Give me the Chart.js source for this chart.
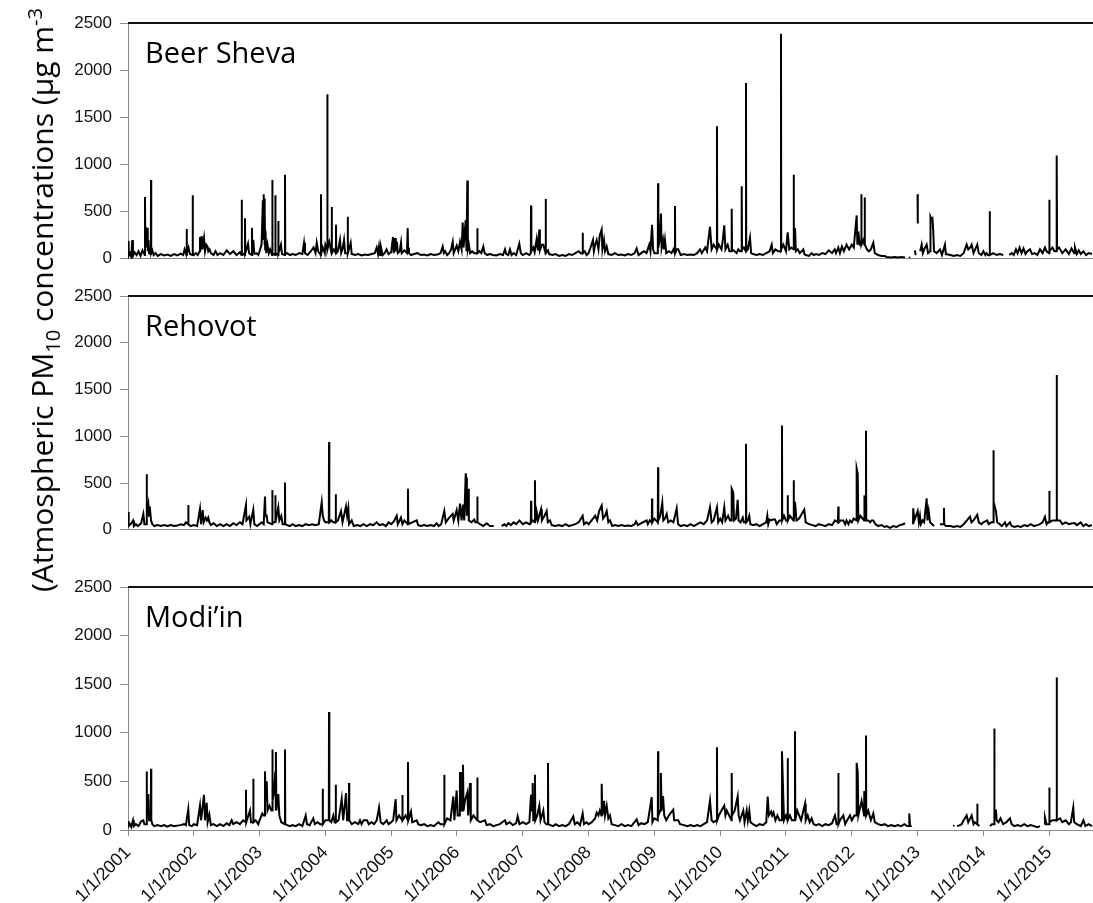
<!DOCTYPE html>
<html>
<head>
<meta charset="utf-8">
<script src="https://cdn.jsdelivr.net/npm/chart.js@4.4.1/dist/chart.umd.min.js"></script>
<style>
  html, body { margin: 0; padding: 0; background: #fff; }
  body { width: 1093px; height: 903px; position: relative; overflow: hidden; }
  canvas { position: absolute; left: 0; }
  #ytitle {
    position: absolute; left: 42px; top: 300px;
    transform: translate(-50%, -50%) rotate(-90deg);
    white-space: nowrap; font-family: 'Open Sans'; font-size: 30px; line-height: 30px; color: #000;
  }
  #ytitle sub, #ytitle sup { font-size: 20px; line-height: 0; }
</style>
</head>
<body>
<canvas id="beerShevaChart" width="1093" height="277" style="top:0px"></canvas>
<canvas id="rehovotChart" width="1093" height="272" style="top:276px"></canvas>
<canvas id="modiinChart" width="1093" height="343" style="top:567px"></canvas>
<div id="ytitle">(Atmospheric PM<sub>10</sub> concentrations (&micro;g m<sup>-3</sup></div>
<script>
// daily PM10 (µg m-3): [decimal year, value], null = no data
const beerSheva = [
  [2001.000,190],[2001.010,30],[2001.030,60],[2001.050,20],[2001.065,200],[2001.075,30],[2001.100,70],[2001.130,40],[2001.160,80],[2001.190,30],[2001.220,90],[2001.255,40],[2001.258,655],[2001.262,300],[2001.270,340],[2001.280,120],[2001.290,330],[2001.300,80],[2001.310,200],[2001.320,60],[2001.330,100],[2001.347,40],[2001.350,835],[2001.353,60],[2001.370,90],[2001.390,40],[2001.420,60],[2001.450,30],[2001.500,50],[2001.550,35],[2001.600,45],[2001.650,30],[2001.700,50],[2001.750,35],[2001.800,55],[2001.840,40],[2001.860,100],[2001.880,60],[2001.889,40],[2001.892,315],[2001.895,60],[2001.920,120],[2001.940,50],[2001.980,40],[2001.983,675],[2001.986,50],
  [2002.000,40],[2002.030,60],[2002.060,40],[2002.090,80],[2002.094,230],[2002.100,90],[2002.120,240],[2002.130,100],[2002.155,220],[2002.170,80],[2002.190,150],[2002.210,130],[2002.220,80],[2002.240,100],[2002.260,60],[2002.300,40],[2002.330,80],[2002.360,40],[2002.400,60],[2002.450,40],[2002.500,90],[2002.550,50],[2002.600,80],[2002.650,40],[2002.700,70],[2002.725,40],[2002.728,625],[2002.732,60],[2002.775,40],[2002.778,430],[2002.782,60],[2002.800,100],[2002.824,160],[2002.840,60],[2002.881,40],[2002.884,330],[2002.888,60],[2002.904,200],[2002.920,50],[2002.950,60],[2002.980,40],
  [2003.000,80],[2003.030,150],[2003.050,620],[2003.055,300],[2003.060,685],[2003.065,200],[2003.070,640],[2003.075,150],[2003.080,500],[2003.085,100],[2003.090,300],[2003.100,60],[2003.120,150],[2003.140,60],[2003.160,100],[2003.190,40],[2003.193,835],[2003.197,60],[2003.236,40],[2003.239,675],[2003.243,60],[2003.281,40],[2003.284,400],[2003.288,60],[2003.325,150],[2003.340,50],[2003.383,40],[2003.386,890],[2003.390,50],[2003.420,60],[2003.460,40],[2003.500,50],[2003.550,40],[2003.600,60],[2003.650,50],[2003.675,170],[2003.690,60],[2003.730,40],[2003.780,80],[2003.820,120],[2003.850,60],[2003.868,170],[2003.890,80],[2003.930,40],[2003.933,685],[2003.937,60],[2003.960,120],[2003.990,60],
  [2004.000,150],[2004.026,100],[2004.029,1745],[2004.033,100],[2004.060,180],[2004.093,60],[2004.096,550],[2004.100,60],[2004.130,100],[2004.158,60],[2004.161,360],[2004.165,60],[2004.190,80],[2004.222,200],[2004.240,60],[2004.260,100],[2004.283,200],[2004.300,60],[2004.336,60],[2004.339,445],[2004.343,60],[2004.384,170],[2004.400,50],[2004.450,40],[2004.500,50],[2004.550,35],[2004.600,45],[2004.650,40],[2004.700,50],[2004.750,60],[2004.780,120],[2004.800,50],[2004.815,130],[2004.830,40],[2004.845,120],[2004.870,40],[2004.900,60],[2004.930,100],[2004.960,50],
  [2005.000,70],[2005.027,230],[2005.040,60],[2005.058,220],[2005.070,80],[2005.088,180],[2005.100,60],[2005.130,80],[2005.149,170],[2005.160,60],[2005.200,90],[2005.240,60],[2005.251,325],[2005.256,120],[2005.270,60],[2005.300,40],[2005.350,50],[2005.400,60],[2005.450,40],[2005.500,45],[2005.550,35],[2005.600,50],[2005.650,40],[2005.700,45],[2005.750,60],[2005.783,130],[2005.800,60],[2005.820,80],[2005.850,40],[2005.880,60],[2005.910,100],[2005.935,180],[2005.950,60],[2005.995,140],
  [2006.020,80],[2006.046,180],[2006.070,100],[2006.087,385],[2006.100,120],[2006.132,410],[2006.145,80],[2006.157,830],[2006.165,100],[2006.180,150],[2006.200,60],[2006.230,80],[2006.260,60],[2006.306,60],[2006.309,325],[2006.313,60],[2006.340,80],[2006.370,60],[2006.400,130],[2006.420,60],[2006.460,40],[2006.500,50],[2006.550,40],[2006.600,35],[2006.650,50],[2006.700,40],[2006.729,100],[2006.750,50],[2006.780,40],[2006.805,100],[2006.830,40],[2006.860,60],[2006.900,40],[2006.947,160],[2006.970,60],
  [2007.000,40],[2007.050,60],[2007.100,40],[2007.122,60],[2007.125,565],[2007.130,80],[2007.160,120],[2007.180,70],[2007.211,210],[2007.230,90],[2007.251,310],[2007.260,90],[2007.290,150],[2007.312,150],[2007.330,100],[2007.345,60],[2007.348,635],[2007.352,60],[2007.383,90],[2007.400,50],[2007.450,40],[2007.500,50],[2007.550,30],[2007.600,40],[2007.650,30],[2007.700,50],[2007.750,40],[2007.800,60],[2007.850,80],[2007.880,60],[2007.907,60],[2007.910,275],[2007.914,60],[2007.940,80],[2007.970,40],
  [2008.000,60],[2008.030,120],[2008.067,200],[2008.080,80],[2008.100,150],[2008.123,200],[2008.150,100],[2008.170,250],[2008.199,310],[2008.210,100],[2008.234,200],[2008.250,80],[2008.275,130],[2008.300,50],[2008.350,40],[2008.400,60],[2008.450,40],[2008.500,45],[2008.550,35],[2008.600,50],[2008.650,40],[2008.700,60],[2008.731,110],[2008.760,40],[2008.800,60],[2008.840,80],[2008.880,60],[2008.922,150],[2008.940,80],[2008.965,360],[2008.980,100],
  [2009.000,60],[2009.052,60],[2009.055,800],[2009.060,120],[2009.080,200],[2009.100,480],[2009.110,120],[2009.131,200],[2009.145,100],[2009.161,200],[2009.180,60],[2009.220,80],[2009.260,60],[2009.290,100],[2009.310,60],[2009.313,560],[2009.317,60],[2009.340,100],[2009.363,100],[2009.400,40],[2009.450,50],[2009.500,40],[2009.550,45],[2009.600,40],[2009.650,60],[2009.693,100],[2009.720,60],[2009.774,120],[2009.800,80],[2009.845,340],[2009.870,100],[2009.900,150],[2009.948,100],[2009.951,1405],[2009.955,100],[2009.980,150],
  [2010.020,100],[2010.040,200],[2010.062,355],[2010.080,100],[2010.114,150],[2010.140,80],[2010.172,80],[2010.175,530],[2010.180,100],[2010.220,80],[2010.250,60],[2010.275,100],[2010.300,80],[2010.324,80],[2010.327,770],[2010.332,100],[2010.360,120],[2010.389,80],[2010.392,1865],[2010.396,80],[2010.420,100],[2010.453,225],[2010.470,60],[2010.500,50],[2010.550,40],[2010.600,50],[2010.650,40],[2010.700,60],[2010.750,80],[2010.783,150],[2010.800,60],[2010.840,100],[2010.880,80],[2010.921,80],[2010.924,2385],[2010.928,100],[2010.960,150],
  [2011.000,80],[2011.026,280],[2011.050,100],[2011.080,120],[2011.114,100],[2011.117,890],[2011.121,100],[2011.137,325],[2011.150,80],[2011.180,100],[2011.210,60],[2011.240,80],[2011.263,100],[2011.280,50],[2011.300,40],[2011.350,30],[2011.390,60],[2011.420,40],[2011.460,50],[2011.500,40],[2011.550,60],[2011.600,50],[2011.650,90],[2011.700,60],[2011.740,100],[2011.760,60],[2011.795,120],[2011.820,60],[2011.850,130],[2011.880,80],[2011.920,150],[2011.960,100],
  [2012.000,150],[2012.030,120],[2012.074,460],[2012.085,150],[2012.099,290],[2012.120,150],[2012.141,150],[2012.144,685],[2012.150,150],[2012.175,200],[2012.193,150],[2012.196,650],[2012.200,150],[2012.230,100],[2012.260,80],[2012.290,100],[2012.327,170],[2012.350,60],[2012.400,40],[2012.450,30],[2012.500,30],[2012.530,20],[2012.600,15],[2012.650,20],[2012.700,15],[2012.750,20],[2012.809,15],[2012.840,null],[2012.874,10],[2012.885,20],[2012.900,null],[2012.960,90],[2012.970,40],[2012.985,null],[2013.000,685],[2013.003,375],[2013.020,null],
  [2013.040,80],[2013.062,150],[2013.080,60],[2013.100,100],[2013.138,150],[2013.160,60],[2013.190,80],[2013.196,445],[2013.210,420],[2013.225,430],[2013.238,300],[2013.250,80],[2013.290,60],[2013.340,100],[2013.370,40],[2013.416,150],[2013.430,50],[2013.500,40],[2013.550,30],[2013.600,40],[2013.650,30],[2013.700,60],[2013.746,150],[2013.770,100],[2013.800,120],[2013.822,150],[2013.850,60],[2013.907,150],[2013.930,60],[2013.970,40],
  [2014.000,80],[2014.030,40],[2014.050,60],[2014.070,40],[2014.093,40],[2014.096,505],[2014.100,40],[2014.150,60],[2014.200,40],[2014.250,50],[2014.302,40],[2014.350,null],[2014.394,40],[2014.430,60],[2014.460,40],[2014.495,100],[2014.520,60],[2014.550,120],[2014.580,60],[2014.610,110],[2014.640,50],[2014.670,80],[2014.708,100],[2014.740,50],[2014.780,60],[2014.820,40],[2014.860,100],[2014.900,60],[2014.936,120],[2014.960,80],[2014.999,60],
  [2015.002,625],[2015.006,80],[2015.050,120],[2015.080,80],[2015.108,80],[2015.114,1095],[2015.120,100],[2015.150,120],[2015.200,60],[2015.250,100],[2015.300,50],[2015.340,110],[2015.380,60],[2015.392,120],[2015.420,50],[2015.450,90],[2015.480,50],[2015.520,80],[2015.560,40],[2015.600,60],[2015.650,50]
]

const rehovot = [
  [2001.000,190],[2001.010,40],[2001.040,60],[2001.076,100],[2001.090,40],[2001.120,60],[2001.150,40],[2001.200,70],[2001.233,170],[2001.250,60],[2001.281,60],[2001.284,595],[2001.288,200],[2001.309,280],[2001.320,150],[2001.330,250],[2001.350,100],[2001.370,60],[2001.400,40],[2001.450,50],[2001.500,40],[2001.550,50],[2001.600,40],[2001.650,50],[2001.700,40],[2001.750,45],[2001.800,60],[2001.850,50],[2001.880,80],[2001.913,60],[2001.916,265],[2001.920,60],[2001.950,40],
  [2002.000,50],[2002.050,40],[2002.094,225],[2002.110,60],[2002.135,210],[2002.150,80],[2002.180,130],[2002.200,100],[2002.220,130],[2002.236,80],[2002.260,50],[2002.300,70],[2002.350,40],[2002.400,60],[2002.450,40],[2002.500,60],[2002.550,40],[2002.600,70],[2002.650,50],[2002.700,80],[2002.740,60],[2002.793,265],[2002.800,100],[2002.843,140],[2002.860,60],[2002.904,215],[2002.920,60],[2002.960,40],
  [2003.000,60],[2003.030,80],[2003.062,60],[2003.082,355],[2003.090,150],[2003.108,150],[2003.120,80],[2003.190,60],[2003.193,425],[2003.197,80],[2003.236,80],[2003.239,370],[2003.243,80],[2003.284,240],[2003.300,100],[2003.330,150],[2003.350,60],[2003.383,60],[2003.386,505],[2003.390,60],[2003.420,50],[2003.460,40],[2003.500,60],[2003.550,40],[2003.600,50],[2003.650,40],[2003.700,60],[2003.750,50],[2003.800,60],[2003.850,50],[2003.900,60],[2003.944,295],[2003.960,150],[2003.980,100],
  [2004.000,80],[2004.052,80],[2004.055,940],[2004.060,80],[2004.090,100],[2004.120,80],[2004.154,80],[2004.157,380],[2004.161,80],[2004.190,100],[2004.237,200],[2004.260,80],[2004.313,250],[2004.330,150],[2004.348,230],[2004.360,60],[2004.400,100],[2004.430,40],[2004.480,50],[2004.530,40],[2004.580,60],[2004.630,40],[2004.680,60],[2004.730,50],[2004.780,80],[2004.820,50],[2004.870,60],[2004.920,40],[2004.960,80],
  [2005.000,60],[2005.040,90],[2005.084,150],[2005.100,60],[2005.149,130],[2005.170,60],[2005.200,100],[2005.252,60],[2005.255,440],[2005.260,60],[2005.290,70],[2005.388,100],[2005.410,50],[2005.450,40],[2005.500,50],[2005.550,40],[2005.600,50],[2005.650,40],[2005.691,70],[2005.720,40],[2005.760,60],[2005.807,200],[2005.830,80],[2005.870,120],[2005.935,170],[2005.950,100],[2005.995,210],
  [2006.020,100],[2006.046,280],[2006.070,100],[2006.091,270],[2006.110,100],[2006.133,605],[2006.137,560],[2006.150,150],[2006.172,440],[2006.180,100],[2006.220,80],[2006.263,110],[2006.280,80],[2006.306,80],[2006.309,355],[2006.313,80],[2006.350,60],[2006.400,40],[2006.451,70],[2006.500,40],[2006.560,40],[2006.578,null],[2006.679,40],[2006.720,60],[2006.750,40],[2006.780,70],[2006.820,50],[2006.860,80],[2006.900,60],[2006.950,100],
  [2007.000,60],[2007.050,80],[2007.100,60],[2007.122,80],[2007.125,310],[2007.130,80],[2007.150,100],[2007.182,80],[2007.185,530],[2007.190,80],[2007.211,190],[2007.230,100],[2007.277,220],[2007.290,100],[2007.330,150],[2007.363,200],[2007.380,80],[2007.413,100],[2007.440,50],[2007.500,40],[2007.550,50],[2007.600,40],[2007.650,60],[2007.700,40],[2007.750,50],[2007.800,60],[2007.850,80],[2007.910,150],[2007.930,60],[2007.970,80],
  [2008.000,60],[2008.067,120],[2008.100,150],[2008.130,100],[2008.160,200],[2008.199,260],[2008.220,120],[2008.250,150],[2008.275,200],[2008.300,80],[2008.325,100],[2008.360,40],[2008.400,50],[2008.450,40],[2008.500,50],[2008.550,40],[2008.600,45],[2008.650,40],[2008.700,60],[2008.720,90],[2008.750,50],[2008.800,70],[2008.883,100],[2008.900,60],[2008.930,100],[2008.961,80],[2008.964,335],[2008.968,80],
  [2009.000,120],[2009.052,80],[2009.055,670],[2009.060,100],[2009.090,150],[2009.120,290],[2009.135,100],[2009.160,120],[2009.187,170],[2009.210,80],[2009.250,100],[2009.290,80],[2009.339,230],[2009.360,60],[2009.400,40],[2009.450,50],[2009.500,40],[2009.550,60],[2009.600,40],[2009.650,60],[2009.700,80],[2009.750,60],[2009.800,100],[2009.845,240],[2009.870,80],[2009.900,100],[2009.951,240],[2009.970,80],
  [2010.000,120],[2010.030,80],[2010.062,240],[2010.080,100],[2010.120,150],[2010.150,100],[2010.172,100],[2010.175,440],[2010.199,400],[2010.210,100],[2010.240,120],[2010.266,320],[2010.280,100],[2010.310,80],[2010.343,130],[2010.360,80],[2010.389,80],[2010.392,920],[2010.396,80],[2010.420,100],[2010.442,150],[2010.460,60],[2010.500,50],[2010.550,60],[2010.600,40],[2010.650,60],[2010.700,80],[2010.716,150],[2010.730,60],[2010.750,110],[2010.770,100],[2010.800,110],[2010.833,110],[2010.860,60],[2010.900,100],[2010.936,100],[2010.939,1115],[2010.943,100],[2010.970,150],
  [2011.000,100],[2011.023,100],[2011.026,370],[2011.030,100],[2011.060,150],[2011.114,100],[2011.117,530],[2011.121,100],[2011.137,300],[2011.160,100],[2011.200,120],[2011.278,215],[2011.300,80],[2011.350,60],[2011.400,50],[2011.450,40],[2011.500,60],[2011.550,50],[2011.600,40],[2011.650,60],[2011.700,50],[2011.745,100],[2011.790,80],[2011.795,250],[2011.800,80],[2011.830,100],[2011.871,100],[2011.900,60],[2011.920,100],[2011.950,60],[2011.973,100],
  [2012.000,80],[2012.030,120],[2012.071,100],[2012.074,655],[2012.090,600],[2012.100,100],[2012.130,150],[2012.187,100],[2012.190,370],[2012.195,100],[2012.213,100],[2012.216,1060],[2012.220,100],[2012.250,100],[2012.280,80],[2012.300,100],[2012.327,100],[2012.360,60],[2012.400,40],[2012.450,50],[2012.500,30],[2012.530,40],[2012.580,20],[2012.630,40],[2012.680,30],[2012.730,50],[2012.780,60],[2012.809,70],[2012.850,null],[2012.930,60],[2012.934,230],[2012.950,100],
  [2013.001,200],[2013.020,80],[2013.036,150],[2013.050,60],[2013.077,100],[2013.100,80],[2013.138,335],[2013.150,100],[2013.169,200],[2013.190,80],[2013.220,60],[2013.250,40],[2013.290,null],[2013.340,60],[2013.398,60],[2013.401,235],[2013.405,60],[2013.430,40],[2013.500,40],[2013.550,30],[2013.600,40],[2013.650,30],[2013.700,60],[2013.750,100],[2013.796,140],[2013.820,80],[2013.850,100],[2013.907,160],[2013.930,80],[2013.970,60],
  [2014.000,80],[2014.059,100],[2014.080,60],[2014.120,80],[2014.147,80],[2014.150,850],[2014.160,300],[2014.191,200],[2014.210,80],[2014.250,60],[2014.280,40],[2014.328,80],[2014.350,40],[2014.404,80],[2014.430,40],[2014.470,30],[2014.520,40],[2014.570,30],[2014.620,50],[2014.670,40],[2014.720,60],[2014.770,40],[2014.820,50],[2014.860,60],[2014.900,80],[2014.936,140],[2014.960,60],[2014.980,80],[2014.999,80],
  [2015.002,415],[2015.006,80],[2015.050,100],[2015.111,100],[2015.114,1655],[2015.118,100],[2015.164,100],[2015.200,60],[2015.250,80],[2015.300,60],[2015.350,70],[2015.392,70],[2015.420,50],[2015.479,80],[2015.520,40],[2015.560,60],[2015.600,40],[2015.650,50]
]

const modiin = [
  [2001.000,90],[2001.010,40],[2001.030,60],[2001.050,30],[2001.076,100],[2001.090,40],[2001.120,60],[2001.160,40],[2001.200,90],[2001.233,100],[2001.250,60],[2001.281,60],[2001.284,603],[2001.288,150],[2001.309,370],[2001.320,100],[2001.347,100],[2001.350,631],[2001.354,100],[2001.370,60],[2001.400,40],[2001.450,50],[2001.500,40],[2001.550,50],[2001.600,35],[2001.650,50],[2001.700,40],[2001.750,45],[2001.800,50],[2001.850,60],[2001.880,50],[2001.916,214],[2001.930,50],[2001.970,40],
  [2002.000,60],[2002.050,50],[2002.094,250],[2002.110,100],[2002.155,362],[2002.170,100],[2002.196,280],[2002.210,80],[2002.236,160],[2002.260,50],[2002.300,60],[2002.350,40],[2002.400,60],[2002.450,40],[2002.500,70],[2002.540,50],[2002.576,100],[2002.600,60],[2002.650,80],[2002.700,60],[2002.750,100],[2002.790,80],[2002.793,414],[2002.797,80],[2002.854,200],[2002.870,80],[2002.901,80],[2002.904,528],[2002.908,80],[2002.940,100],[2002.980,60],
  [2003.000,100],[2003.041,170],[2003.060,150],[2003.079,150],[2003.082,603],[2003.090,300],[2003.108,500],[2003.120,200],[2003.150,250],[2003.180,200],[2003.190,200],[2003.193,828],[2003.200,300],[2003.220,400],[2003.239,600],[2003.246,200],[2003.249,803],[2003.255,200],[2003.270,300],[2003.284,370],[2003.300,150],[2003.330,80],[2003.383,60],[2003.386,828],[2003.390,60],[2003.420,50],[2003.460,40],[2003.500,50],[2003.550,40],[2003.600,60],[2003.650,40],[2003.701,150],[2003.720,60],[2003.760,50],[2003.816,120],[2003.840,60],[2003.880,80],[2003.920,60],[2003.956,60],[2003.959,424],[2003.963,60],
  [2004.000,100],[2004.052,100],[2004.055,1214],[2004.060,100],[2004.090,80],[2004.120,150],[2004.140,80],[2004.154,80],[2004.157,466],[2004.161,80],[2004.200,100],[2004.248,321],[2004.270,100],[2004.313,380],[2004.330,100],[2004.356,100],[2004.359,483],[2004.363,100],[2004.400,60],[2004.450,80],[2004.500,60],[2004.526,100],[2004.550,60],[2004.580,100],[2004.632,100],[2004.660,60],[2004.700,80],[2004.740,60],[2004.780,100],[2004.815,230],[2004.840,80],[2004.880,60],[2004.932,100],[2004.960,60],
  [2005.000,80],[2005.030,100],[2005.068,317],[2005.080,100],[2005.120,150],[2005.166,100],[2005.169,359],[2005.175,100],[2005.220,150],[2005.252,100],[2005.255,700],[2005.260,100],[2005.301,190],[2005.320,80],[2005.388,100],[2005.410,60],[2005.450,50],[2005.500,60],[2005.550,40],[2005.600,50],[2005.650,40],[2005.716,80],[2005.750,60],[2005.804,60],[2005.807,569],[2005.810,60],[2005.850,120],[2005.900,100],[2005.944,345],[2005.960,100],[2005.995,407],
  [2006.010,150],[2006.043,150],[2006.046,597],[2006.060,200],[2006.088,200],[2006.091,672],[2006.100,200],[2006.120,300],[2006.157,386],[2006.170,150],[2006.198,483],[2006.210,100],[2006.250,150],[2006.306,100],[2006.309,541],[2006.313,100],[2006.350,80],[2006.426,100],[2006.450,50],[2006.500,60],[2006.550,40],[2006.600,50],[2006.650,60],[2006.729,100],[2006.750,60],[2006.800,80],[2006.850,50],[2006.900,70],[2006.922,140],[2006.950,60],
  [2007.000,80],[2007.050,60],[2007.100,80],[2007.125,362],[2007.140,200],[2007.150,483],[2007.160,100],[2007.182,100],[2007.185,569],[2007.190,100],[2007.220,150],[2007.251,250],[2007.270,100],[2007.312,200],[2007.330,80],[2007.360,60],[2007.380,60],[2007.383,690],[2007.387,60],[2007.420,50],[2007.460,40],[2007.500,60],[2007.550,40],[2007.600,50],[2007.650,40],[2007.700,60],[2007.767,140],[2007.790,60],[2007.830,80],[2007.870,50],[2007.910,170],[2007.930,60],[2007.970,80],
  [2008.000,60],[2008.050,80],[2008.100,120],[2008.123,180],[2008.150,150],[2008.170,200],[2008.196,150],[2008.199,476],[2008.210,150],[2008.234,300],[2008.250,150],[2008.275,250],[2008.300,120],[2008.325,150],[2008.350,60],[2008.400,50],[2008.450,40],[2008.500,60],[2008.550,40],[2008.600,50],[2008.650,40],[2008.731,110],[2008.760,50],[2008.800,70],[2008.850,60],[2008.900,80],[2008.959,338],[2008.970,80],
  [2009.000,120],[2009.052,100],[2009.055,810],[2009.060,150],[2009.090,200],[2009.097,200],[2009.100,586],[2009.110,200],[2009.131,350],[2009.150,150],[2009.180,100],[2009.220,150],[2009.287,210],[2009.300,100],[2009.363,100],[2009.390,60],[2009.450,50],[2009.500,40],[2009.550,50],[2009.600,40],[2009.650,50],[2009.700,40],[2009.750,60],[2009.800,80],[2009.845,303],[2009.870,100],[2009.900,80],[2009.948,100],[2009.951,852],[2009.955,100],[2009.980,150],
  [2010.020,200],[2010.062,250],[2010.080,150],[2010.100,200],[2010.172,100],[2010.175,586],[2010.180,150],[2010.220,200],[2010.266,345],[2010.280,150],[2010.300,100],[2010.351,200],[2010.370,80],[2010.403,200],[2010.420,100],[2010.442,200],[2010.460,80],[2010.500,60],[2010.550,40],[2010.600,60],[2010.650,50],[2010.700,80],[2010.722,345],[2010.740,150],[2010.775,190],[2010.790,150],[2010.810,180],[2010.840,100],[2010.870,150],[2010.900,100],[2010.936,100],[2010.939,810],[2010.959,340],[2010.970,100],
  [2011.000,150],[2011.023,100],[2011.026,738],[2011.030,100],[2011.060,150],[2011.090,100],[2011.134,100],[2011.137,1017],[2011.141,100],[2011.170,200],[2011.200,150],[2011.230,100],[2011.289,269],[2011.300,100],[2011.330,150],[2011.360,80],[2011.390,120],[2011.420,60],[2011.460,50],[2011.500,60],[2011.550,40],[2011.600,60],[2011.650,50],[2011.700,70],[2011.745,150],[2011.770,60],[2011.792,60],[2011.795,586],[2011.800,60],[2011.820,100],[2011.871,150],[2011.900,60],[2011.930,100],[2011.973,150],
  [2012.000,100],[2012.040,150],[2012.071,150],[2012.074,690],[2012.090,600],[2012.100,150],[2012.150,300],[2012.187,150],[2012.190,400],[2012.213,150],[2012.216,972],[2012.220,150],[2012.250,200],[2012.290,100],[2012.327,170],[2012.350,80],[2012.400,60],[2012.450,50],[2012.500,60],[2012.550,40],[2012.600,50],[2012.650,40],[2012.700,50],[2012.750,40],[2012.800,60],[2012.840,40],[2012.871,40],[2012.874,170],[2012.885,40],[2012.910,40],[2012.920,null],
  [2013.543,40],[2013.560,50],[2013.575,null],[2013.600,40],[2013.644,50],[2013.670,60],[2013.700,100],[2013.746,150],[2013.770,80],[2013.800,120],[2013.822,150],[2013.850,60],[2013.870,80],[2013.904,60],[2013.907,269],[2013.911,60],[2013.938,40],[2013.950,null],
  [2014.100,40],[2014.130,60],[2014.163,60],[2014.166,1044],[2014.170,200],[2014.191,200],[2014.202,100],[2014.230,80],[2014.260,120],[2014.300,60],[2014.350,80],[2014.404,120],[2014.430,60],[2014.470,40],[2014.520,50],[2014.570,40],[2014.620,60],[2014.670,40],[2014.720,50],[2014.770,40],[2014.820,30],[2014.860,40],[2014.880,null],[2014.930,60],[2014.936,130],[2014.960,60],[2014.999,60],
  [2015.002,438],[2015.006,80],[2015.050,100],[2015.111,100],[2015.114,1569],[2015.118,100],[2015.164,120],[2015.200,80],[2015.250,100],[2015.300,60],[2015.330,80],[2015.366,231],[2015.380,80],[2015.420,60],[2015.480,40],[2015.520,100],[2015.550,40],[2015.600,60],[2015.650,40]
]

const tickYears = [2001, 2002, 2003, 2004, 2005, 2006, 2007, 2008, 2009, 2010, 2011, 2012, 2013, 2014, 2015]
const yTicks = [0, 500, 1000, 1500, 2000, 2500]

Chart.defaults.font.family = 'Liberation Sans'
Chart.defaults.animation = false

// station name inside the plot + dark top edge of the plot area
const panelLabel = {
  id: 'panelLabel',
  afterDraw(chart, args, opts) {
    const { ctx, chartArea } = chart
    ctx.save()
    ctx.strokeStyle = '#111'
    ctx.lineWidth = 2
    ctx.beginPath()
    ctx.moveTo(chartArea.left, chartArea.top)
    ctx.lineTo(chartArea.right, chartArea.top)
    ctx.stroke()
    ctx.font = '29px "Open Sans"'
    ctx.fillStyle = '#000'
    ctx.textBaseline = 'alphabetic'
    ctx.fillText(opts.text, chartArea.left + 17, chartArea.top + 40)
    ctx.restore()
  }
}

function makePanel(id, label, series, showDates, padTop) {
  const xTicks = showDates
    ? { display: true, callback: v => '1/1/' + v, minRotation: 45, maxRotation: 45, color: '#111', font: { size: 18 }, padding: 6 }
    : { display: false }
  return new Chart(document.getElementById(id), {
    type: 'line',
    data: {
      datasets: [{
        data: series.map(([x, y]) => ({ x, y })),
        borderColor: '#000',
        borderWidth: 2,
        pointRadius: 0,
        tension: 0,
        spanGaps: false
      }]
    },
    options: {
      responsive: false,
      events: [],
      layout: { padding: { top: padTop, right: 0, bottom: showDates ? 0 : 10, left: 0 } },
      plugins: { legend: { display: false }, tooltip: { enabled: false }, panelLabel: { text: label } },
      scales: {
        x: {
          type: 'linear',
          min: 2001,
          max: 2015.666,
          afterBuildTicks: s => { s.ticks = tickYears.map(v => ({ value: v })) },
          afterFit: s => { s.height = showDates ? 80 : 0 },
          border: { display: true, color: '#8a8a8a', width: 1 },
          grid: { display: showDates, drawOnChartArea: false, drawTicks: true, tickLength: 6, color: '#8a8a8a' },
          ticks: xTicks
        },
        y: {
          min: 0,
          max: 2500,
          afterBuildTicks: s => { s.ticks = yTicks.map(v => ({ value: v })) },
          afterFit: s => { s.width = 128 },
          border: { display: true, color: '#8a8a8a', width: 1 },
          grid: { drawOnChartArea: false, drawTicks: true, tickLength: 8, color: '#8a8a8a' },
          ticks: { color: '#111', font: { size: 17 }, padding: 8, callback: v => String(v) }
        }
      }
    },
    plugins: [panelLabel]
  })
}

makePanel('beerShevaChart', 'Beer Sheva', beerSheva, false, 23)
makePanel('rehovotChart', 'Rehovot', rehovot, false, 20)
makePanel('modiinChart', 'Modi\u2019in', modiin, true, 20)
</script>
</body>
</html>
